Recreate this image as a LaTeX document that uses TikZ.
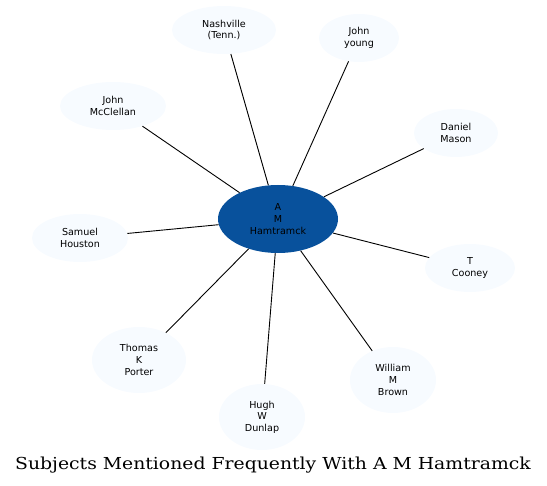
\documentclass[tikz,border=0pt]{standalone}
\usepackage{fontspec}
\setmainfont{DejaVu Serif}
\newfontfamily\nodefont{DejaVu Sans}
\newfontfamily\titlefont[FakeStretch=1.14]{DejaVu Serif}
\usetikzlibrary{shapes.geometric}
\definecolor{hubblue}{HTML}{08519C}
\definecolor{leafblue}{HTML}{F7FBFF}

\begin{document}
\begin{tikzpicture}[x=1pt,y=-1pt,
  hub/.style={ellipse, fill=hubblue, inner sep=0pt, align=center,
    font=\nodefont\fontsize{9.6}{11.6}\selectfont},
  leaf/.style={ellipse, fill=leafblue, inner sep=0pt, align=center,
    font=\nodefont\fontsize{9.6}{11.6}\selectfont},
  link/.style={draw=black, line width=0.9pt}]

\useasboundingbox (0,0) rectangle (547,486);

%centre
\node[hub, minimum width=120, minimum height=68] (hamtramck) at (278,219) {A\\M\\Hamtramck};

%subjects
\node[leaf, minimum width=104, minimum height=48] (nashville) at (224,30) {Nashville\\(Tenn.)};
\node[leaf, minimum width=80, minimum height=48] (young) at (359,38) {John\\young};
\node[leaf, minimum width=84, minimum height=48] (mason) at (456,133) {Daniel\\Mason};
\node[leaf, minimum width=90, minimum height=48] (cooney) at (470,268) {T\\Cooney};
\node[leaf, minimum width=86, minimum height=66] (brown) at (393,380) {William\\M\\Brown};
\node[leaf, minimum width=86, minimum height=66] (dunlap) at (262,417) {Hugh\\W\\Dunlap};
\node[leaf, minimum width=94, minimum height=66] (porter) at (139,360) {Thomas\\K\\Porter};
\node[leaf, minimum width=96, minimum height=48] (houston) at (80,238) {Samuel\\Houston};
\node[leaf, minimum width=106, minimum height=48] (mcclellan) at (113,106) {John\\McClellan};

%links
\foreach \s in {nashville,young,mason,cooney,brown,dunlap,porter,houston,mcclellan}
  \draw[link] (hamtramck) -- (\s);

%title
\node[font=\titlefont\fontsize{16.5}{19}\selectfont] (title) at (273,465) {Subjects Mentioned Frequently With A M Hamtramck};

\end{tikzpicture}
\end{document}
